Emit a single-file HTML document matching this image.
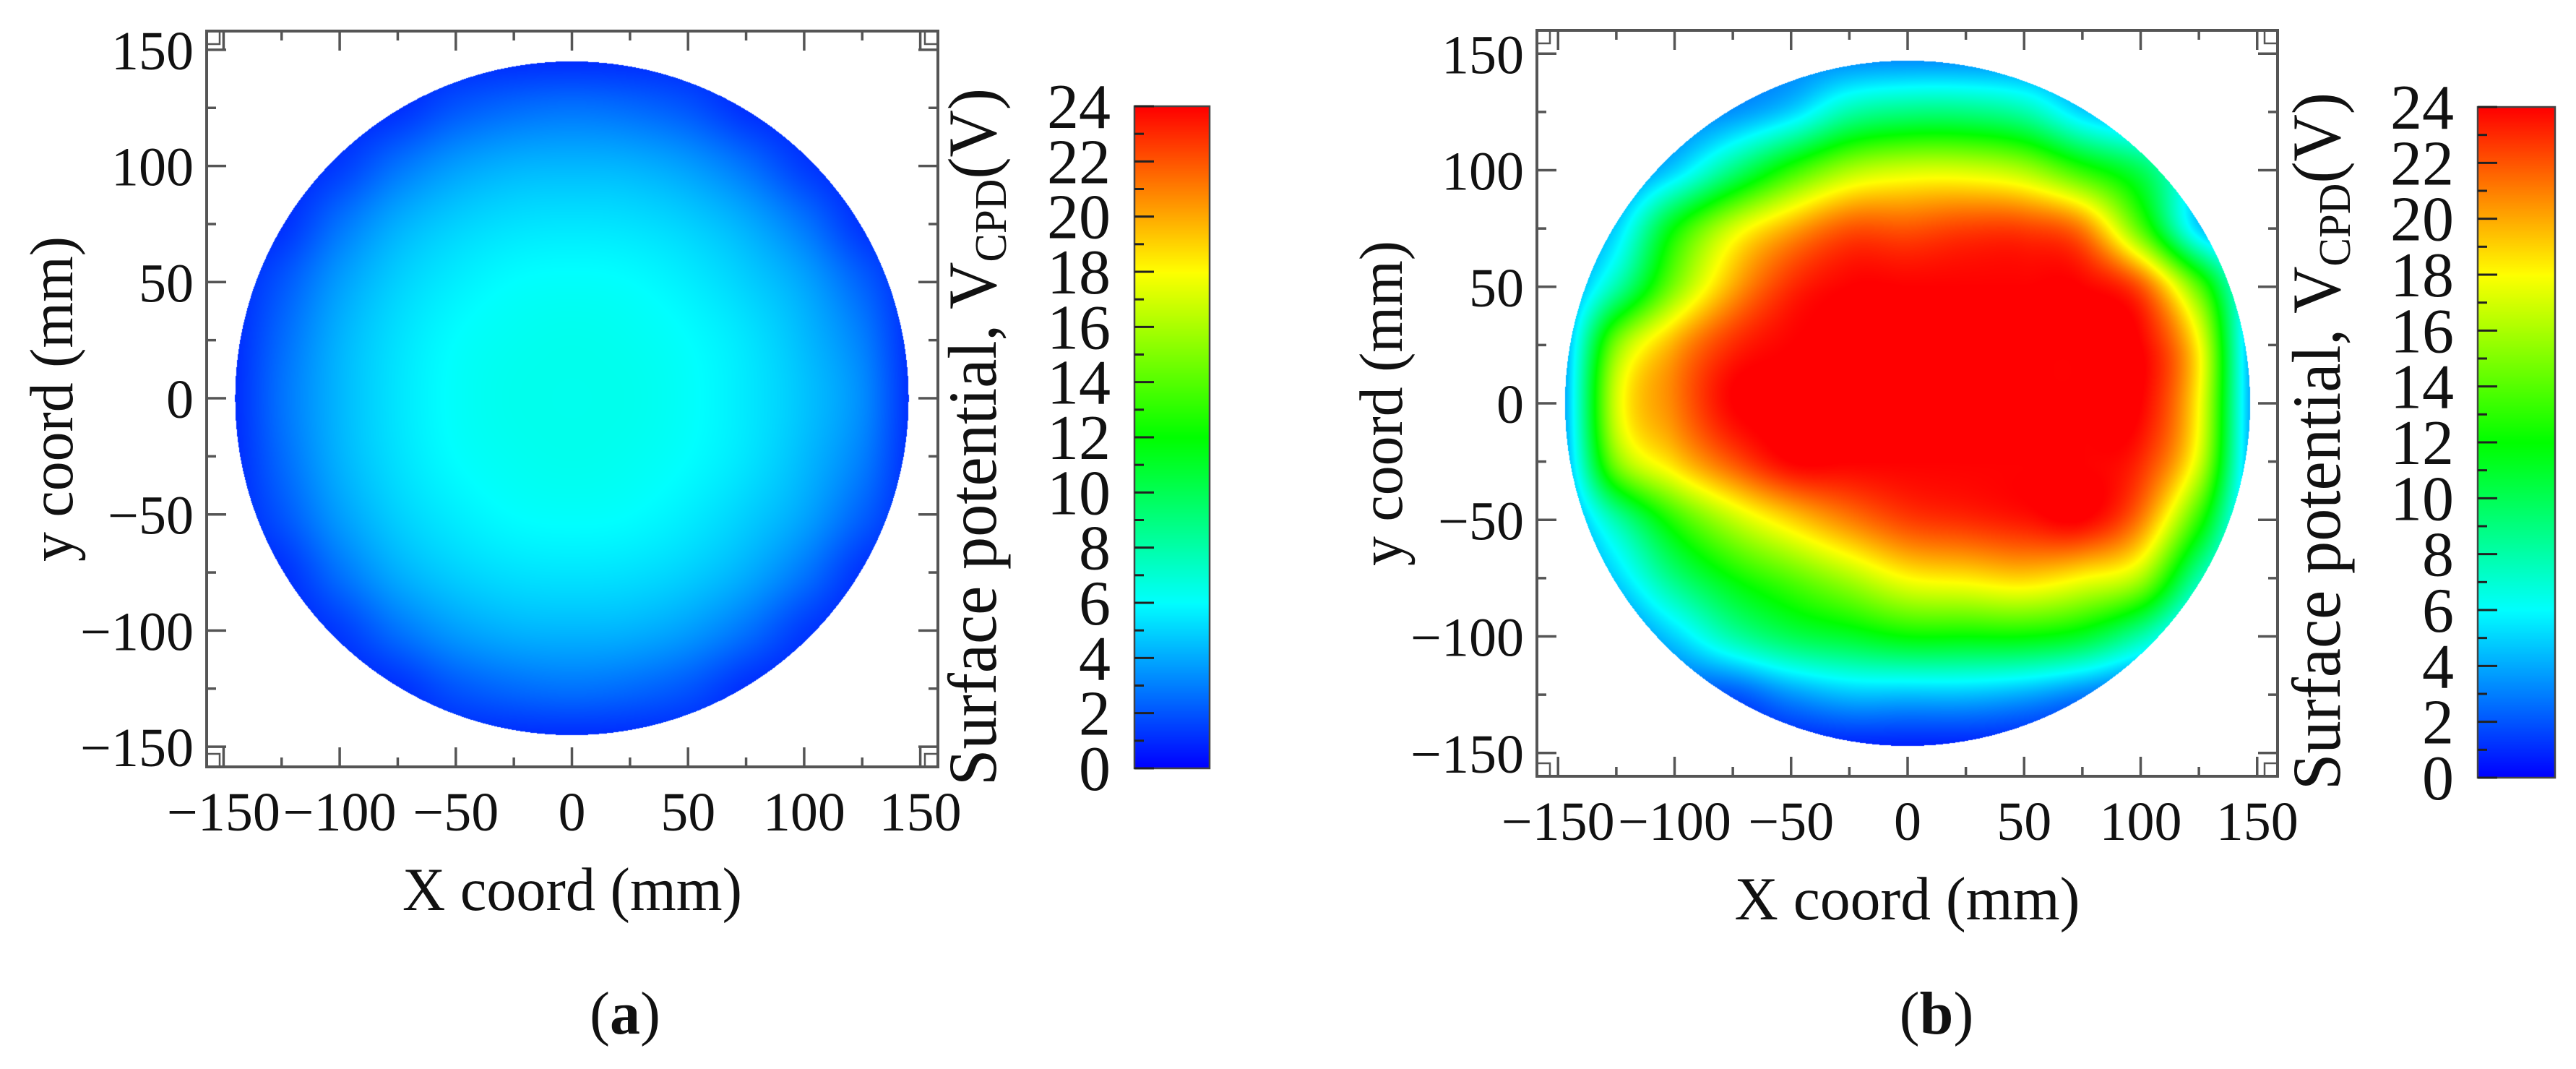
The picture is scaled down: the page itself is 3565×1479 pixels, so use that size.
<!DOCTYPE html>
<html>
<head>
<meta charset="utf-8">
<style>
  html,body{margin:0;padding:0;background:#fff;}
  #root{position:relative;width:3565px;height:1479px;overflow:hidden;background:#fff;}
  canvas{position:absolute;}
  svg{position:absolute;left:0;top:0;}
  text{font-family:"Liberation Serif","Times New Roman","Tinos",serif;fill:#111;}
</style>
</head>
<body>
<div id="root">
  <canvas id="mapA"></canvas>
  <canvas id="mapB"></canvas>
  <canvas id="barA"></canvas>
  <canvas id="barB"></canvas>
  <svg id="overlay" width="3565" height="1479"></svg>
</div>
<script>
// ---------------- DATA ----------------
const gridX = [-150,-125,-100,-75,-50,-25,0,25,50,75,100,125,150];
const gridY = [150,125,100,75,50,25,0,-25,-50,-75,-100,-125,-150];
const axisTicks = [-150,-100,-50,0,50,100,150];
const axisMinorTicks = [-125,-75,-25,25,75,125];
const axisTickLabels = ["\u2212150","\u2212100","\u221250","0","50","100","150"];
const cbarTicks = [0,2,4,6,8,10,12,14,16,18,20,22,24];
const cbarMinorTicks = [1,3,5,7,9,11,13,15,17,19,21,23];
const cbarTickLabels = ["0","2","4","6","8","10","12","14","16","18","20","22","24"];
// panel (a) surface potential grid (V), rows follow gridY, columns follow gridX
const valuesA = [
  [0.8,0.8,0.8,0.8,0.8,0.8,0.8,0.8,0.8,0.8,0.8,0.8,0.8],
  [0.8,0.8,0.8,1.1,2.0,2.5,2.7,2.5,2.0,1.1,0.8,0.8,0.8],
  [0.8,0.8,1.4,2.7,3.7,4.2,4.3,4.2,3.7,2.7,1.4,0.8,0.8],
  [0.8,1.1,2.7,4.1,4.9,5.3,5.4,5.3,4.9,4.1,2.8,1.2,0.8],
  [0.8,2.0,3.7,4.9,5.6,6.0,6.1,6.0,5.6,4.9,3.9,2.3,0.8],
  [0.8,2.5,4.2,5.3,6.0,6.3,6.4,6.3,6.0,5.4,4.4,3.0,0.8],
  [0.8,2.7,4.3,5.4,6.1,6.4,6.4,6.4,6.1,5.5,4.6,3.3,0.8],
  [0.8,2.5,4.2,5.3,6.0,6.3,6.4,6.3,6.0,5.4,4.4,3.0,0.8],
  [0.8,2.0,3.7,4.9,5.6,6.0,6.1,6.0,5.6,4.9,3.9,2.3,0.8],
  [0.8,1.1,2.7,4.1,4.9,5.3,5.4,5.3,4.9,4.1,2.8,1.2,0.8],
  [0.8,0.8,1.4,2.7,3.7,4.2,4.3,4.2,3.7,2.7,1.4,0.8,0.8],
  [0.8,0.8,0.8,1.1,2.0,2.5,2.7,2.5,2.0,1.1,0.8,0.8,0.8],
  [0.8,0.8,0.8,0.8,0.8,0.8,0.8,0.8,0.8,0.8,0.8,0.8,0.8]
];
// panel (b) surface potential grid (V)
const valuesB = [
  [3,3,3,3,3,3,3,3,3,3,3,3,3],
  [3,3,3,3.5,5,8,9,9,8,5,3.5,3,3],
  [3,3,5,9,13,16,17,17,16,13,10,5,3],
  [3,5,12,17,20,22,22,22.5,22.5,21,14,5,3],
  [3,8,15,20,23,24,24,24,24,24,22,14,4],
  [3,15,20,23,24,24,24,24,24,24,24,18,3],
  [3,17,21,24,24,24,24,24,24,24,24,18,3],
  [3,15,19,22,24,24,24,24,24,24,23,17,3],
  [3,8,13,16.5,19,21,22.5,23,23.5,24,21,13,3],
  [3,5,9,12,14,16,18,18.5,19,18,16,8,3],
  [3,3,5,8,10,11,12,12,12,11,8,4,3],
  [2,2,2,2,3.5,4.5,4.5,4.5,4,3,2,2,2],
  [0.5,0.5,0.5,0.5,0.5,0.5,0.5,0.5,0.5,0.5,0.5,0.5,0.5]
];
const radiusA = 145;
const radiusB = 147;
const vMin = 0, vMax = 24;

// ---------------- LAYOUT ----------------
const panels = [
  {id:'a', map:'mapA', bar:'barA', values:valuesA, radius:radiusA,
   fx0:286, fx1:1298, fy0:43, fy1:1061, cx:791.5, cy:551, s:3.214,
   bx0:1570, bx1:1674, by0:147, by1:1063, cbLabelRight:1537, cbTitleX:1378,
   yTitleX:100, xTitleY:1259, xTitleW:470, capY:1430, capX:865, capText:'a'},
  {id:'b', map:'mapB', bar:'barB', values:valuesB, radius:radiusB,
   fx0:2127, fx1:3152, fy0:42, fy1:1074, cx:2640, cy:558, s:3.225,
   bx0:3429, bx1:3536, by0:148, by1:1076, cbLabelRight:3396, cbTitleX:3238,
   yTitleX:1940, xTitleY:1272, xTitleW:478, capY:1430, capX:2680, capText:'b'}
];

function jet(v){
  const stops=[[0,0,0,255],[6,0,255,255],[12,0,255,0],[18,255,255,0],[24,255,0,0]];
  v=Math.max(vMin,Math.min(vMax,v));
  for(let i=0;i<stops.length-1;i++){
    const a=stops[i],b=stops[i+1];
    if(v<=b[0]){const t=(v-a[0])/(b[0]-a[0]);
      return [a[1]+(b[1]-a[1])*t,a[2]+(b[2]-a[2])*t,a[3]+(b[3]-a[3])*t];}
  }
  return [255,0,0];
}
function cr(p0,p1,p2,p3,t){
  return 0.5*((2*p1)+(-p0+p2)*t+(2*p0-5*p1+4*p2-p3)*t*t+(-p0+3*p1-3*p2+p3)*t*t*t);
}
function sample(values,x,y){
  const step=gridX[1]-gridX[0];
  const n=gridX.length,m=gridY.length;
  let fi=(x-gridX[0])/step, fj=(gridY[0]-y)/step;
  fi=Math.max(0,Math.min(n-1.0001,fi));
  fj=Math.max(0,Math.min(m-1.0001,fj));
  const i=Math.floor(fi),j=Math.floor(fj),tx=fi-i,ty=fj-j;
  const ci=k=>Math.max(0,Math.min(n-1,k)), cj=k=>Math.max(0,Math.min(m-1,k));
  const rows=[];
  for(let d=-1;d<=2;d++){
    const r=values[cj(j+d)];
    rows.push(cr(r[ci(i-1)],r[ci(i)],r[ci(i+1)],r[ci(i+2)],tx));
  }
  return cr(rows[0],rows[1],rows[2],rows[3],ty);
}

const svg=document.getElementById('overlay');
const NS='http://www.w3.org/2000/svg';
function mk(tag,attrs,parent){const e=document.createElementNS(NS,tag);for(const k in attrs)e.setAttribute(k,attrs[k]);(parent||svg).appendChild(e);return e;}

panels.forEach(p=>{
  const xs=v=>p.cx+v*p.s, ys=v=>p.cy-v*p.s;
  const cv=document.getElementById(p.map);
  const W=p.fx1-p.fx0,H=p.fy1-p.fy0;
  cv.width=W;cv.height=H;cv.style.left=p.fx0+'px';cv.style.top=p.fy0+'px';
  const ctx=cv.getContext('2d');const img=ctx.createImageData(W,H);
  for(let py=0;py<H;py++){for(let px=0;px<W;px++){
    const mx=(p.fx0+px+0.5-p.cx)/p.s, my=(p.cy-(p.fy0+py+0.5))/p.s;
    const k=(py*W+px)*4;
    if(mx*mx+my*my<=p.radius*p.radius){
      const c=jet(sample(p.values,mx,my));
      img.data[k]=c[0];img.data[k+1]=c[1];img.data[k+2]=c[2];img.data[k+3]=255;
    } else {img.data[k+3]=0;}
  }}
  ctx.putImageData(img,0,0);
  const cb=document.getElementById(p.bar);
  const bw=p.bx1-p.bx0,bh=p.by1-p.by0;
  cb.width=bw;cb.height=bh;cb.style.left=p.bx0+'px';cb.style.top=p.by0+'px';
  const cctx=cb.getContext('2d');
  for(let y=0;y<bh;y++){const c=jet(vMax-(y/bh)*(vMax-vMin));cctx.fillStyle=`rgb(${c[0]|0},${c[1]|0},${c[2]|0})`;cctx.fillRect(0,y,bw,1);}

  const g=mk('g',{});
  
  
  const fr=mk('rect',{x:p.fx0,y:p.fy0,width:p.fx1-p.fx0,height:p.fy1-p.fy0,fill:'none',stroke:'#555','stroke-width':4},g);
  
  
  [[p.fx0,p.fy0],[p.fx1-18,p.fy0],[p.fx0,p.fy1-18],[p.fx1-18,p.fy1-18]].forEach(c=>{
    const r=mk('rect',{x:c[0],y:c[1],width:18,height:18,fill:'none',stroke:'#555','stroke-width':2.5},g);
    
    
  });
  const tk=mk('g',{stroke:'#555','stroke-width':3.5},g);
  
  
  const drawTicks=(vals,len)=>vals.forEach(v=>{
    mk('line',{x1:xs(v),x2:xs(v),y1:p.fy1,y2:p.fy1-len},tk);
    mk('line',{x1:xs(v),x2:xs(v),y1:p.fy0,y2:p.fy0+len},tk);
    mk('line',{x1:p.fx0,x2:p.fx0+len,y1:ys(v),y2:ys(v)},tk);
    mk('line',{x1:p.fx1,x2:p.fx1-len,y1:ys(v),y2:ys(v)},tk);
  });
  drawTicks(axisTicks,27);drawTicks(axisMinorTicks,13);
  axisTicks.forEach((v,i)=>{
    const tx=mk('text',{x:xs(v),y:p.fy1+88,'font-size':76,'text-anchor':'middle'},g);
    tx.textContent=axisTickLabels[i];
    
    
    const ty=mk('text',{x:p.fx0-18,y:ys(v)+27,'font-size':76,'text-anchor':'end'},g);
    ty.textContent=axisTickLabels[i];
    
    
  });
  const xt=mk('text',{x:(p.fx0+p.fx1)/2,y:p.xTitleY,'font-size':85,'text-anchor':'middle',textLength:p.xTitleW,lengthAdjust:'spacingAndGlyphs'},g);
  xt.textContent='X coord (mm)';
  
  
  const yc=(p.fy0+p.fy1)/2;
  const yt=mk('text',{x:p.yTitleX,y:yc,'font-size':85,'text-anchor':'middle',transform:`rotate(-90 ${p.yTitleX} ${yc})`,textLength:450,lengthAdjust:'spacingAndGlyphs'},g);
  yt.textContent='y coord (mm)';
  
  
  const cbf=mk('rect',{x:p.bx0,y:p.by0,width:p.bx1-p.bx0,height:p.by1-p.by0,fill:'none',stroke:'#444','stroke-width':2.5},g);
  
  
  const cbs=v=>p.by1-(v-vMin)/(vMax-vMin)*(p.by1-p.by0);
  const ctk=mk('g',{stroke:'#222','stroke-width':3},g);
  
  
  cbarTicks.forEach(v=>mk('line',{x1:p.bx0,x2:p.bx0+27,y1:cbs(v),y2:cbs(v)},ctk));
  cbarMinorTicks.forEach(v=>mk('line',{x1:p.bx0,x2:p.bx0+13,y1:cbs(v),y2:cbs(v)},ctk));
  cbarTicks.forEach((v,i)=>{
    const t=mk('text',{x:p.cbLabelRight,y:cbs(v)+30,'font-size':88,'text-anchor':'end'},g);
    t.textContent=cbarTickLabels[i];
    
    
  });
  const cc=(122+1087)/2+(p.id==='b'?6:0);
  const ct=mk('text',{x:p.cbTitleX,y:cc,'font-size':95,'text-anchor':'middle',transform:`rotate(-90 ${p.cbTitleX} ${cc})`},g);
  
  
  const t1=mk('tspan',{},ct);t1.textContent='Surface potential, V';
  const t2=mk('tspan',{'font-size':62,dy:14},ct);t2.textContent='CPD';
  const t3=mk('tspan',{dy:-14},ct);t3.textContent='(V)';
  ct.setAttribute('textLength',965);
  ct.setAttribute('lengthAdjust','spacingAndGlyphs');
  const cap=mk('text',{x:p.capX,y:p.capY,'font-size':84,'text-anchor':'middle'},g);
  
  
  const c1=mk('tspan',{},cap);c1.textContent='(';
  const c2=mk('tspan',{'font-weight':'bold'},cap);c2.textContent=p.capText;
  const c3=mk('tspan',{},cap);c3.textContent=')';
});
</script>
</body>
</html>
